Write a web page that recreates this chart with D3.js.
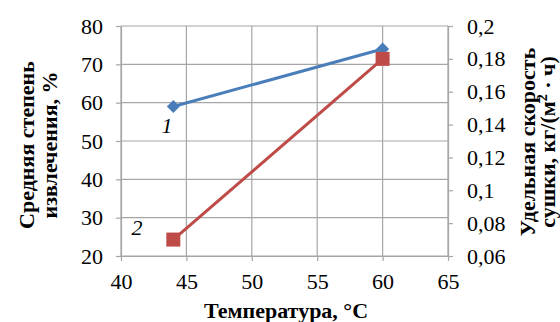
<!DOCTYPE html>
<html>
<head>
<meta charset="utf-8">
<style>
body { margin: 0; background: #fff; }
svg text { font-family: "Liberation Serif", "Times New Roman", serif; fill: #000; }
</style>
</head>
<body>
<svg width="560" height="322"></svg>
<script src="https://d3js.org/d3.v7.min.js"></script>
<script>
var temps = [44, 60];
var extraction = [59, 74];        // series 1, left axis, %
var dryRate = [0.07, 0.18];       // series 2, right axis
var xTicks = [40, 45, 50, 55, 60, 65];
var leftTicks = [20, 30, 40, 50, 60, 70, 80];
var rightTicks = [0.06, 0.08, 0.1, 0.12, 0.14, 0.16, 0.18, 0.2];

var svg = d3.select("svg");
var pLeft = 121, pRight = 448, pTop = 26, pBottom = 256;

var x = d3.scaleLinear().domain([40, 65]).range([pLeft, pRight]);
var yL = d3.scaleLinear().domain([20, 80]).range([pBottom, pTop]);
var yR = d3.scaleLinear().domain([0.06, 0.2]).range([pBottom, pTop]);

var grid = "#a6a6a6";
var serif = "'Liberation Serif', 'Times New Roman', serif";

// grid
svg.append("g").selectAll("line").data(xTicks).enter().append("line")
    .attr("x1", function(d) { return x(d); }).attr("x2", function(d) { return x(d); })
    .attr("y1", pTop).attr("y2", pBottom)
    .attr("stroke", grid).attr("stroke-width", 1.2);
svg.append("g").selectAll("line").data(leftTicks).enter().append("line")
    .attr("x1", pLeft).attr("x2", pRight)
    .attr("y1", function(d) { return yL(d); }).attr("y2", function(d) { return yL(d); })
    .attr("stroke", grid).attr("stroke-width", 1.2);

function styleAxis(g) {
  g.attr("font-family", serif).attr("font-size", 22);
  g.selectAll("path, line").attr("stroke", grid).attr("stroke-width", 1.2);
  g.selectAll("text").attr("font-size", 22).attr("font-family", serif);
}

svg.append("g").attr("transform", "translate(0," + pBottom + ")")
  .call(d3.axisBottom(x).tickValues(xTicks).tickSize(5).tickSizeOuter(0).tickPadding(12))
  .call(styleAxis);

svg.append("g").attr("transform", "translate(" + pLeft + ",0)")
  .call(d3.axisLeft(yL).tickValues(leftTicks).tickSize(5).tickSizeOuter(0).tickPadding(13))
  .call(styleAxis);

svg.append("g").attr("transform", "translate(" + pRight + ",0)")
  .call(d3.axisRight(yR).tickValues(rightTicks).tickSize(5).tickSizeOuter(0).tickPadding(14)
    .tickFormat(function(d) { return String(+d.toFixed(2)).replace(".", ","); }))
  .call(styleAxis);

var red = "#be4b48", blue = "#4a7ebb";

// series 1 (blue)
var pts1 = temps.map(function(t, i) { return [x(t), yL(extraction[i])]; });
svg.append("path").attr("d", d3.line()(pts1))
  .attr("fill", "none").attr("stroke", blue).attr("stroke-width", 3);
svg.append("g").selectAll("path").data(pts1).enter().append("path")
  .attr("transform", function(d) { return "translate(" + d[0] + "," + d[1] + ")"; })
  .attr("d", "M0,-6.5L6.5,0L0,6.5L-6.5,0Z")
  .attr("fill", blue);

// series 2 (red)
var pts2 = temps.map(function(t, i) { return [x(t), yR(dryRate[i])]; });
svg.append("path").attr("d", d3.line()(pts2))
  .attr("fill", "none").attr("stroke", red).attr("stroke-width", 3);
svg.append("g").selectAll("rect").data(pts2).enter().append("rect")
  .attr("x", function(d) { return d[0] - 7; }).attr("y", function(d) { return d[1] - 7; })
  .attr("width", 14).attr("height", 14).attr("fill", red);

// series labels
svg.append("text").attr("x", 167).attr("y", 133).attr("font-size", 22)
  .attr("font-style", "italic").attr("text-anchor", "middle").text("1");
svg.append("text").attr("x", 137).attr("y", 235).attr("font-size", 22)
  .attr("font-style", "italic").attr("text-anchor", "middle").text("2");

// axis titles
svg.append("text").attr("x", 286).attr("y", 318)
  .attr("font-size", 22).attr("font-weight", "bold").attr("text-anchor", "middle")
  .text("Температура, °C");

var lt = svg.append("text").attr("transform", "translate(34,145) rotate(-90)")
  .attr("font-size", 22).attr("font-weight", "bold").attr("text-anchor", "middle");
lt.append("tspan").attr("x", 0).attr("y", 0).text("Средняя степень");
lt.append("tspan").attr("x", 0).attr("y", 23).text("извлечения, %");

var rt = svg.append("text").attr("transform", "translate(535,142) rotate(-90)")
  .attr("font-size", 22).attr("font-weight", "bold").attr("text-anchor", "middle")
  .attr("xml:space", "preserve");
rt.append("tspan").attr("x", 0).attr("y", 0).text("Удельная скорость");
rt.append("tspan").attr("x", 0).attr("y", 20).text("сушки, кг/(м");
rt.append("tspan").attr("dy", -8).attr("font-size", 14).text("2");
rt.append("tspan").attr("dy", 8).text("\u00a0·\u00a0ч)");
</script>
</body>
</html>
